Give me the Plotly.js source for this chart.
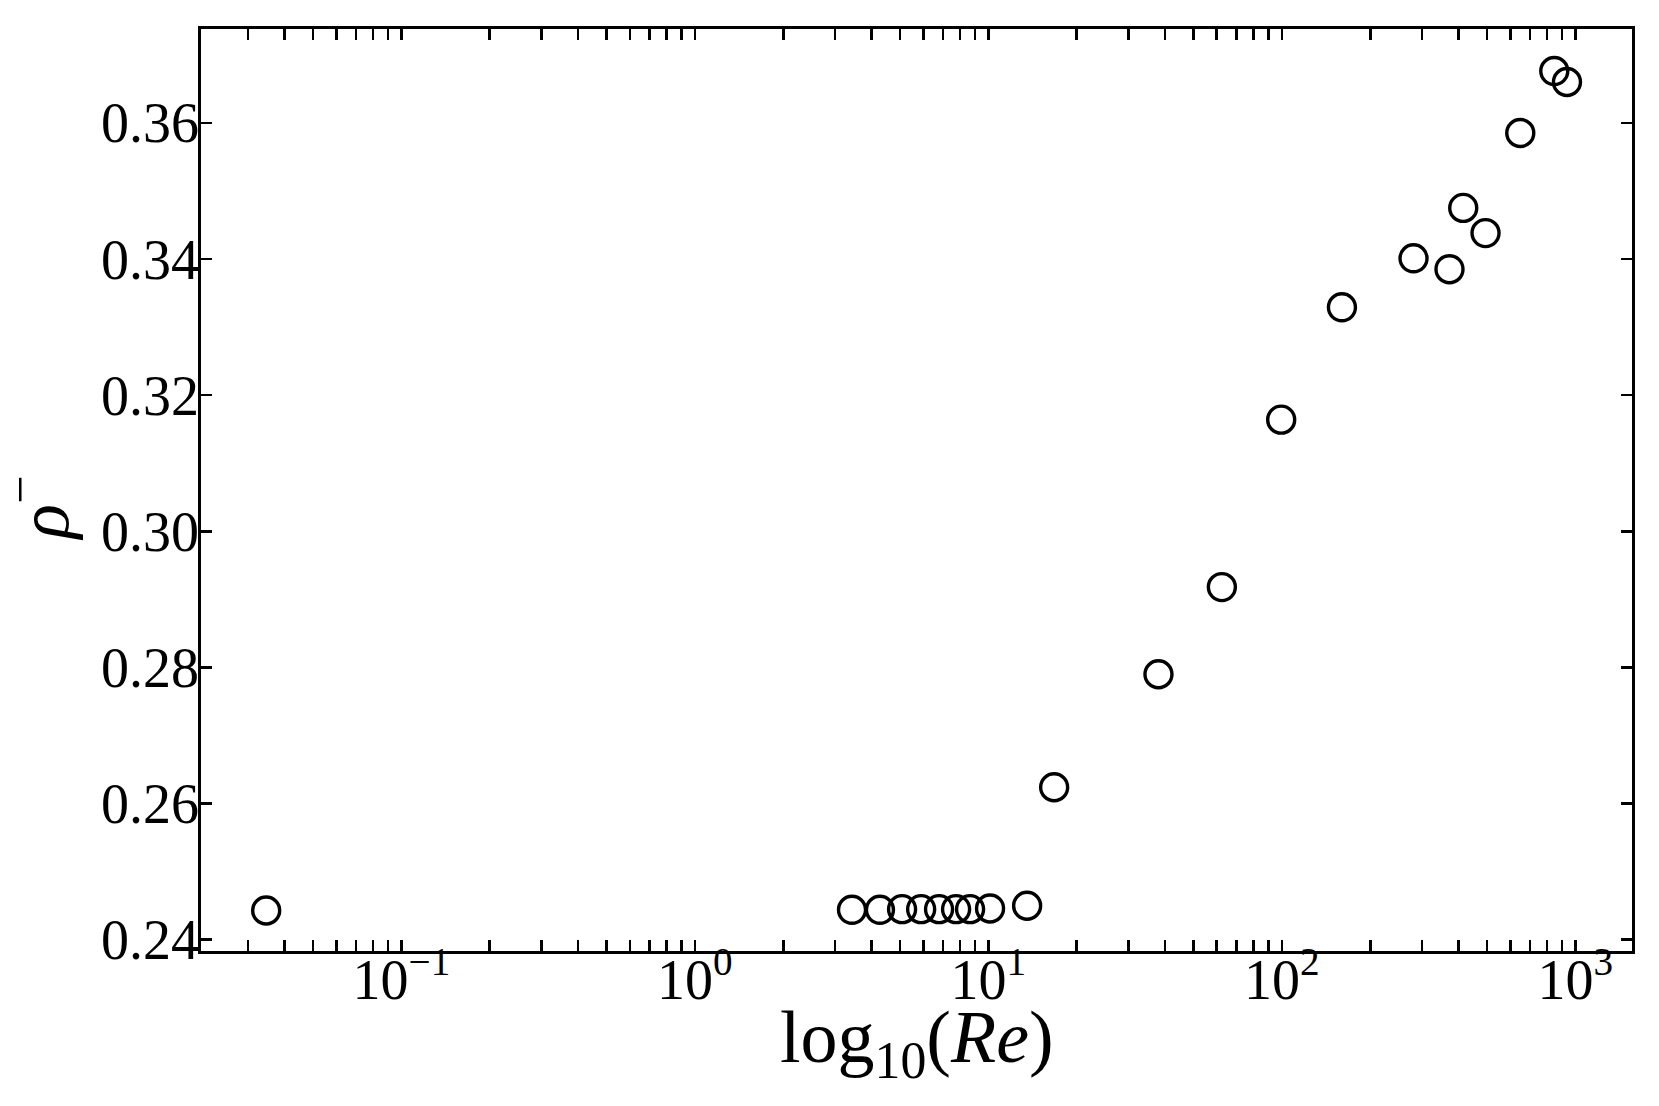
<!DOCTYPE html>
<html>
<head>
<meta charset="utf-8">
<script src="https://cdn.plot.ly/plotly-3.0.1.min.js"></script>
<style>html,body{margin:0;padding:0;background:#fff;}#chart{width:1659px;height:1106px;}</style>
</head>
<body>
<div id="chart"></div>
<script>
// Data
const reynolds = [0.0346, 3.43, 4.27, 5.08, 5.90, 6.79, 7.76, 8.66, 10.13, 13.55, 16.75, 37.97, 62.45, 99.45, 160.2, 280.9, 372.5, 414.9, 494.2, 649.1, 847.6, 936.3];
const rhoMinus = [0.2443, 0.2444, 0.2444, 0.2445, 0.2445, 0.2445, 0.2445, 0.2445, 0.2446, 0.2450, 0.2624, 0.2790, 0.2918, 0.3164, 0.3329, 0.3401, 0.3385, 0.3475, 0.3438, 0.3585, 0.3676, 0.3660];

const xMajorTicks = [0.1, 1, 10, 100, 1000];
const xTickLabels = ['10<sup>−1</sup>', '10<sup>0</sup>', '10<sup>1</sup>', '10<sup>2</sup>', '10<sup>3</sup>'];
const yTicks = [0.24, 0.26, 0.28, 0.30, 0.32, 0.34, 0.36];
const yTickLabels = ['0.24', '0.26', '0.28', '0.30', '0.32', '0.34', '0.36'];
const xTitle = 'log<sub>10</sub>(<i>Re</i>)';
const yTitle = '<i>ρ</i><sup>−</sup>';

const xMinorTicks = [];
[0.01, 0.1, 1, 10, 100].forEach(function (d) {
  for (let k = 2; k <= 9; k++) xMinorTicks.push(+(k * d).toPrecision(3));
});

const serif = '"Liberation Serif", "DejaVu Serif", serif';

const trace = {
  x: reynolds,
  y: rhoMinus,
  type: 'scatter',
  mode: 'markers',
  marker: {
    symbol: 'circle-open',
    size: 27,
    color: '#000',
    line: {color: '#000', width: 3.4}
  },
  hoverinfo: 'x+y'
};

const layout = {
  width: 1659,
  height: 1106,
  margin: {l: 201, r: 27, t: 29, b: 155, pad: 0},
  paper_bgcolor: '#fff',
  plot_bgcolor: '#fff',
  showlegend: false,
  font: {family: serif, color: '#000'},
  xaxis: {
    type: 'log',
    range: [-1.683, 3.193],
    tickmode: 'array',
    tickvals: xMajorTicks,
    ticktext: xTickLabels,
    ticks: 'inside',
    ticklen: 11,
    tickwidth: 2.6,
    tickcolor: '#000',
    minor: {
      tickmode: 'array',
      tickvals: xMinorTicks,
      ticks: 'inside',
      ticklen: 11,
      tickwidth: 2.6,
      tickcolor: '#000',
      showgrid: false
    },
    showline: true,
    linecolor: '#000',
    linewidth: 2.7,
    mirror: 'ticks',
    showgrid: false,
    zeroline: false,
    tickfont: {family: serif, size: 56, color: '#000'},
    ticklabelstandoff: -22
  },
  yaxis: {
    range: [0.23835, 0.37378],
    tickmode: 'array',
    tickvals: yTicks,
    ticktext: yTickLabels,
    ticks: 'inside',
    ticklen: 11,
    tickwidth: 2.6,
    tickcolor: '#000',
    showline: true,
    linecolor: '#000',
    linewidth: 2.7,
    mirror: 'ticks',
    showgrid: false,
    zeroline: false,
    tickfont: {family: serif, size: 56, color: '#000'},
    ticklabelstandoff: -12
  },
  annotations: [
    {
      text: xTitle,
      xref: 'paper', yref: 'paper',
      x: 0.5, y: -0.099,
      xanchor: 'center', yanchor: 'middle',
      showarrow: false,
      font: {family: serif, size: 74, color: '#000'}
    },
    {
      text: yTitle,
      xref: 'paper', yref: 'paper',
      x: -0.114, y: 0.481,
      xanchor: 'center', yanchor: 'middle',
      textangle: -90,
      showarrow: false,
      font: {family: serif, size: 72, color: '#000'}
    }
  ]
};

Plotly.newPlot('chart', [trace], layout, {displayModeBar: false, staticPlot: true});
</script>
</body>
</html>
